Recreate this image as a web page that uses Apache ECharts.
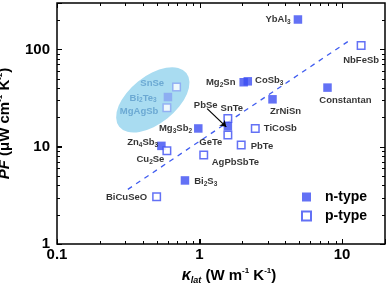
<!DOCTYPE html>
<html><head><meta charset="utf-8">
<script src="https://cdn.jsdelivr.net/npm/echarts@6/dist/echarts.min.js"></script>
<style>html,body{margin:0;padding:0;background:#fff}#c{width:390px;height:292px}</style>
</head><body><div id="c"></div>
<script>
// ---- data ----
const nNames = ['YbAl3','Mg2Sn','CoSb3','Constantan','ZrNiSn','PbSe','Mg3Sb2','Bi2S3','Zn4Sb3','Bi2Te3'];
const nKappa = [4.9, 2.04, 2.18, 7.9, 3.25, 1.58, 0.98, 0.79, 0.54, 0.60];
const nPF    = [203, 46, 47, 40.5, 30.7, 16.2, 15.4, 4.5, 10.2, 32.4];
const pNames = ['NbFeSb','SnTe','GeTe','TiCoSb','PbTe','AgPbSbTe','Cu2Se','BiCuSeO','SnSe','MgAgSb'];
const pKappa = [13.6, 1.58, 1.58, 2.46, 1.96, 1.07, 0.59, 0.50, 0.69, 0.59];
const pPF    = [110, 19.5, 13.2, 15.4, 10.4, 8.2, 9.1, 3.06, 41, 25.2];
const trendKappa = [0.314, 11.3];
const trendPF = [3.64, 124];
const arrowKappa = [1.13, 1.54];
const arrowPF = [24.6, 16.0];
const highlightNames = ['SnSe','Bi2Te3','MgAgSb'];
const highlightCenter = [0.47, 30.3];
const xTickValues = [0.1,0.2,0.3,0.4,0.5,0.6,0.7,0.8,0.9,1,2,3,4,5,6,7,8,9,10];
const yTickValues = [1,2,3,4,5,6,7,8,9,10,20,30,40,50,60,70,80,90,100,200];
const xMin = 0.1, xMax = 20, yMin = 1, yMax = 300;

// ---- styling / layout ----
const FONT = '"Liberation Sans", Arial, Helvetica, sans-serif';
const BLUE = '#3c4ef2';
const LIGHT_MARK = '#86a3f2';
const LIGHT_TEXT = '#5c9ccc';
const labelLayout = {
  YbAl3:['left',3,[0,0]], NbFeSb:['bottom',4,[0,0]], Mg2Sn:['left',4,[0,0]],
  CoSb3:['right',3,[0,-1]], Constantan:['bottom',3,[18,0]], ZrNiSn:['bottom',2,[13,0]],
  PbSe:['left',6,[0,-21]], SnTe:['top',0,[4,0]], GeTe:['left',1,[0,7]],
  TiCoSb:['right',4,[0,0]], PbTe:['right',5,[0,1.5]], Mg3Sb2:['left',2,[0,0]],
  AgPbSbTe:['right',3.5,[0,7]], Bi2S3:['right',5,[0,1]], Zn4Sb3:['left',0,[1,-3]],
  Cu2Se:['left',0,[2,9]], BiCuSeO:['left',5,[0,1]], SnSe:['left',8,[0,-4]],
  Bi2Te3:['left',7,[0,1]], MgAgSb:['left',4,[0,4]]
};
function labelFor(name){
  const l = labelLayout[name];
  const hl = highlightNames.includes(name);
  const col = hl ? LIGHT_TEXT : '#000';
  return {
    show:true, position:l[0], distance:l[1], offset:l[2],
    formatter: name.replace(/(\d)/g,'{s|$1}'),
    fontFamily:FONT, fontSize:9.5, fontWeight:'bold', color:col, lineHeight:12,
    rich:{ s:{fontFamily:FONT, fontSize:6.5, fontWeight:'bold', color:col, verticalAlign:'bottom', lineHeight:6} }
  };
}
function buildData(names, xs, ys, filled){
  return names.map((nm,i)=>{
    const d = {name:nm, value:[xs[i], ys[i]], label:labelFor(nm)};
    if (highlightNames.includes(nm)) {
      d.itemStyle = filled ? {color:LIGHT_MARK} : {color:'#fff', borderColor:LIGHT_MARK};
    }
    return d;
  });
}
const isDecade = v => Math.abs(Math.log10(v) - Math.round(Math.log10(v))) < 1e-6;
const MAJOR_LEN = 5, MINOR_LEN = 3;

const chart = echarts.init(document.getElementById('c'), null, {renderer:'canvas'});
chart.setOption({
  animation:false,
  grid:{left:57, right:5, top:3, bottom:48, outerBoundsMode:'none', containLabel:false,
    show:true, borderColor:'#000', borderWidth:1.5, backgroundColor:'transparent'},
  xAxis:{type:'log', logBase:10, min:xMin, max:xMax,
    axisLine:{show:false}, splitLine:{show:false}, minorTick:{show:false},
    axisTick:{show:true, inside:true, length:MAJOR_LEN, lineStyle:{color:'#000', width:1}},
    axisLabel:{margin:3, fontFamily:FONT, fontSize:15, fontWeight:'bold', color:'#000', formatter:v=>isDecade(v)?String(+v.toPrecision(3)):''},
    name:'{k|κ}{ls|lat}{m| (W m}{sp|-1}{m| K}{sp|-1}{m|)}', nameLocation:'middle', nameGap:20,
    nameTextStyle:{padding:[0,0,0,16], lineHeight:18, rich:{
      k:{fontFamily:FONT, fontSize:16, fontWeight:'bold', fontStyle:'italic', color:'#000', lineHeight:18},
      ls:{fontFamily:FONT, fontSize:9, fontWeight:'bold', fontStyle:'italic', color:'#000', verticalAlign:'bottom', lineHeight:9},
      m:{fontFamily:FONT, fontSize:15, fontWeight:'bold', color:'#000', lineHeight:18},
      sp:{fontFamily:FONT, fontSize:8, fontWeight:'bold', color:'#000', verticalAlign:'top', lineHeight:9}
    }}
  },
  yAxis:{type:'log', logBase:10, min:yMin, max:yMax,
    axisLine:{show:false}, splitLine:{show:false}, minorTick:{show:false},
    axisTick:{show:true, inside:true, length:MAJOR_LEN, lineStyle:{color:'#000', width:1}},
    axisLabel:{margin:7, fontFamily:FONT, fontSize:15, fontWeight:'bold', color:'#000', formatter:v=>isDecade(v)?String(Math.round(v)):''},
    name:'{pf|PF}{m| (μW cm}{sp|-1}{m| K}{sp|-2}{m|)}', nameLocation:'middle', nameGap:34, nameRotate:90,
    nameTextStyle:{lineHeight:18, rich:{
      pf:{fontFamily:FONT, fontSize:15, fontWeight:'bold', fontStyle:'italic', color:'#000', lineHeight:18},
      m:{fontFamily:FONT, fontSize:15, fontWeight:'bold', color:'#000', lineHeight:18},
      sp:{fontFamily:FONT, fontSize:8, fontWeight:'bold', color:'#000', verticalAlign:'top', lineHeight:9}
    }}
  },
  legend:{data:['n-type','p-type'], orient:'vertical', left:296, top:185, itemWidth:9, itemHeight:9, itemGap:5,
    textStyle:{fontFamily:FONT, fontSize:14, fontWeight:'bold', color:'#000', padding:[0,0,0,9]}},
  series:[
    {type:'custom', name:'highlight', z:1, silent:true, data:[highlightCenter],
      renderItem:(params, api)=>{ const p = api.coord([api.value(0), api.value(1)]);
        return {type:'circle', x:p[0], y:p[1], rotation:0.675, scaleX:43, scaleY:23.6, shape:{cx:0,cy:0,r:1}, style:{fill:'#a9dcf1'}}; }},
    {type:'line', name:'trend', z:2, silent:true, showSymbol:false, symbol:'none',
      data:trendKappa.map((k,i)=>[k, trendPF[i]]),
      lineStyle:{color:'#3f5cf0', width:1.3, type:[5,5]}},
    {type:'scatter', name:'n-type', z:3, symbol:'rect', symbolSize:8.5,
      itemStyle:{color:BLUE}, data:buildData(nNames, nKappa, nPF, true)},
    {type:'scatter', name:'p-type', z:4, symbol:'rect', symbolSize:7.5,
      itemStyle:{color:'#fff', borderColor:BLUE, borderWidth:1.5}, data:buildData(pNames, pKappa, pPF, false)},
    {type:'lines', name:'arrow', coordinateSystem:'cartesian2d', z:5, silent:true,
      symbol:['none','arrow'], symbolSize:6,
      lineStyle:{color:'#000', width:1.2, opacity:1},
      data:[{coords:arrowKappa.map((k,i)=>[k, arrowPF[i]])}]}
  ]
});

// inward ticks on all four sides, positioned through the chart's own log scales
(function addTicks(){
  const toPx = (x, y) => chart.convertToPixel({xAxisIndex:0, yAxisIndex:0}, [x, y]);
  const bl = toPx(xMin, yMin), tr = toPx(xMax, yMax);
  const els = [];
  const seg = (x1,y1,x2,y2) => els.push({type:'line', silent:true, z:100,
    shape:{x1:x1,y1:y1,x2:x2,y2:y2}, style:{stroke:'#000', lineWidth:1}});
  xTickValues.forEach(v=>{
    const len = isDecade(v) ? MAJOR_LEN : MINOR_LEN;
    const x = Math.round(toPx(v, yMin)[0]) + 0.5;
    seg(x, bl[1], x, bl[1]-len);
    seg(x, tr[1], x, tr[1]+len);
  });
  yTickValues.forEach(v=>{
    const len = isDecade(v) ? MAJOR_LEN : MINOR_LEN;
    const y = Math.round(toPx(xMin, v)[1]) + 0.5;
    seg(bl[0], y, bl[0]+len, y);
    seg(tr[0], y, tr[0]-len, y);
  });
  chart.setOption({graphic:{elements:els}});
})();
</script></body></html>
